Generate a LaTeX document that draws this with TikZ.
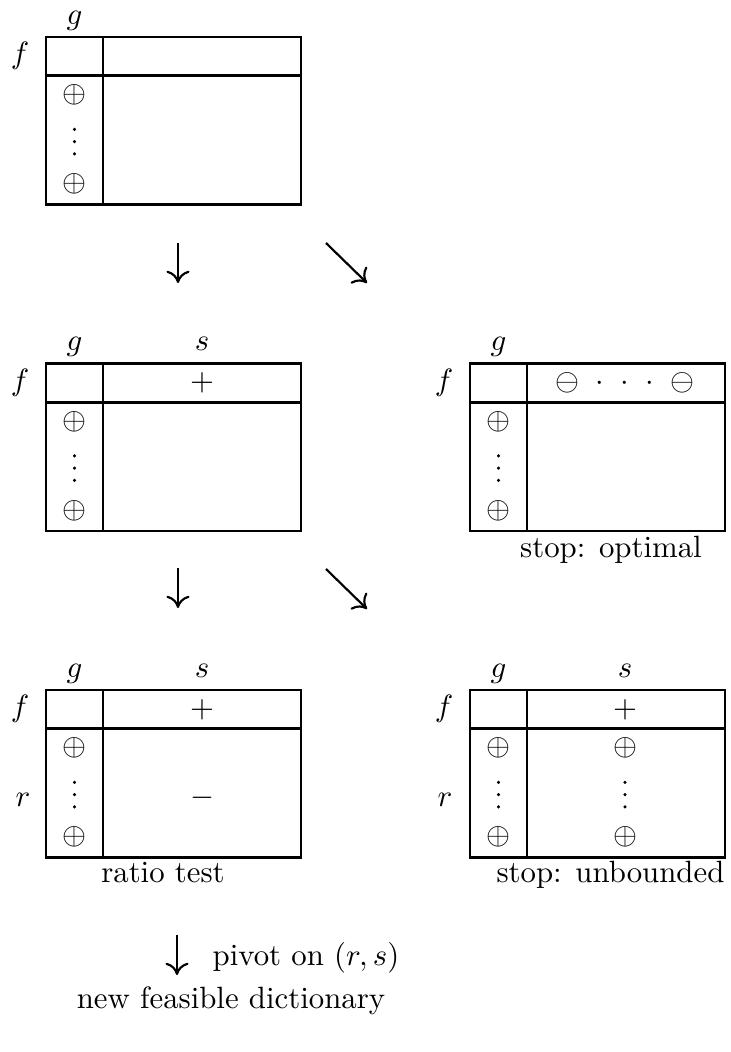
\documentclass[tikz,border=0pt]{standalone}
\usetikzlibrary{arrows.meta}
\tikzset{
  tbl/.style={line width=0.9pt},
  lbl/.style={anchor=base, inner sep=0pt},
  sym/.style={anchor=center, inner sep=0pt},
  dotc/.style={fill=black},
  flow/.style={line width=0.7pt, -{Computer Modern Rightarrow[length=4pt,width=7.5pt]}},
}
% vertical dots, middle dot centred at (#1,#2)
\newcommand{\vdotsat}[2]{%
  \fill[dotc] ({#1},{#2-12.3}) circle (1.7);
  \fill[dotc] ({#1},{#2}) circle (1.7);
  \fill[dotc] ({#1},{#2+12.3}) circle (1.7);
}
\newcommand{\dtab}[3]{%
  \draw[tbl] (#1,#2) rectangle ({#1+255},{#2+167.5});
  \draw[tbl] ({#1+57},#2) -- ({#1+57},{#2+167.5});
  \draw[tbl] (#1,{#2+38.7}) -- ({#1+255},{#2+38.7});
  \node[lbl] (#3g) at ({#1+28.5},{#2-13}) {$g$};
  \node[lbl] (#3f) at ({#1-26},{#2+26.5}) {$f$};
  \node[sym] (#3p1) at ({#1+28.5},{#2+58}) {$\oplus$};
  \vdotsat{#1+28.5}{#2+104.6}
  \node[sym] (#3p2) at ({#1+28.5},{#2+147}) {$\oplus$};
}
\begin{document}
\begin{tikzpicture}[x=0.3247pt,y=-0.3247pt]
\useasboundingbox (0,0) rectangle (731,1052);
% table 1
\dtab{46}{37}{A}
% arrows row 1
\coordinate (a1s) at (178,243); \coordinate (a1e) at (178,283);
\coordinate (d1s) at (326,243); \coordinate (d1e) at (367,283);
\draw[flow] (a1s) -- (a1e);
\draw[flow] (d1s) -- (d1e);
% table 2
\dtab{46}{363.5}{B}
\node[lbl] (Bs) at (202,350.5) {$s$};
\node[sym] (Bplus) at (202,383) {$+$};
% table 3
\dtab{470}{363.5}{C}
\node[sym] (Cneg) at (625,382.5) {$\ominus\hspace{5.3pt}{\cdot}\hspace{5.3pt}{\cdot}\hspace{5.3pt}{\cdot}\hspace{5.3pt}\ominus$};
\node[lbl] (Copt) at (611,557) {stop: optimal};
% arrows row 2
\coordinate (a2s) at (178,568); \coordinate (a2e) at (178,608);
\coordinate (d2s) at (326,569); \coordinate (d2e) at (367,609);
\draw[flow] (a2s) -- (a2e);
\draw[flow] (d2s) -- (d2e);
% table 4
\dtab{46}{690}{D}
\node[lbl] (Ds) at (202,677) {$s$};
\node[sym] (Dplus) at (202,709.5) {$+$};
\node[lbl] (Dr) at (23,806.7) {$r$};
\node[sym] (Dminus) at (202,798) {$-$};
\node[lbl] (Dlab) at (163,882) {ratio test};
% table 5
\dtab{470}{690}{E}
\node[lbl] (Es) at (625,677) {$s$};
\node[sym] (Eplus) at (625,709.5) {$+$};
\node[lbl] (Er) at (445,806.7) {$r$};
\node[sym] (Ep1) at (625,748) {$\oplus$};
\vdotsat{625}{794.6}
\node[sym] (Ep2) at (625,837) {$\oplus$};
\node[lbl] (Elab) at (610.5,882) {stop: unbounded};
% pivot
\coordinate (a3s) at (177,935); \coordinate (a3e) at (177,975);
\draw[flow] (a3s) -- (a3e);
\node[lbl] (piv) at (306,965.5) {pivot on $(r,s)$};
\node[lbl] (new) at (231,1008) {new feasible dictionary};
\end{tikzpicture}
\end{document}
